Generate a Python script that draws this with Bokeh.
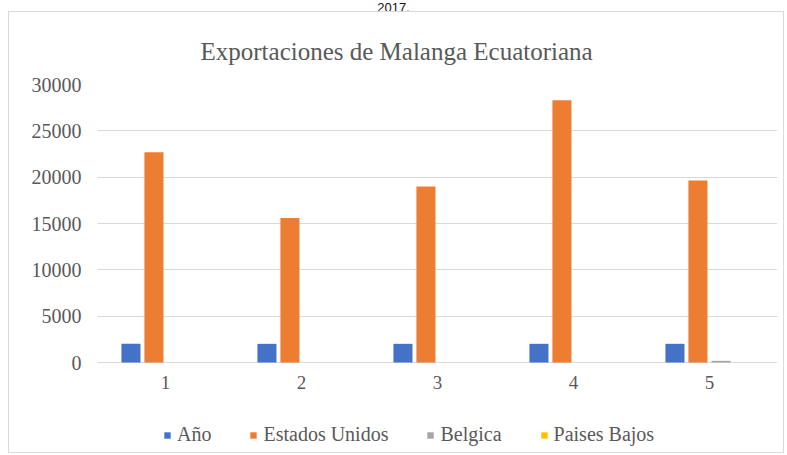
from bokeh.plotting import figure
from bokeh.models import (FactorRange, ColumnDataSource, Legend, LegendItem, Range1d,
                          FixedTicker, Div, NumeralTickFormatter)
from bokeh.transform import dodge
from bokeh.layouts import column
from bokeh.core.properties import value
from bokeh.embed import file_html
from bokeh.resources import INLINE

# ---- data ----
grupos = ["1", "2", "3", "4", "5"]
anio = [2013, 2014, 2015, 2016, 2017]
estados_unidos = [22700, 15600, 19000, 28300, 19650]
belgica = [0, 0, 0, 0, 180]
paises_bajos = [0, 0, 0, 0, 0]
y_ticks = [0, 5000, 10000, 15000, 20000, 25000, 30000]
series_names = ["Año", "Estados Unidos", "Belgica", "Paises Bajos"]
series_colors = ["#4472C4", "#ED7D31", "#A5A5A5", "#FFC000"]
titulo = "Exportaciones de Malanga Ecuatoriana"
caption = "2017."

src = ColumnDataSource(dict(g=grupos, a=anio, e=estados_unidos, b=belgica, p=paises_bajos))

SERIF = "Liberation Serif"
GRAY = "#595959"

# frame extends below the zero line to host category labels and legend
y_min = -90 * 30000 / 278
p = figure(x_range=FactorRange(*grupos), y_range=Range1d(y_min, 30000),
           output_backend="svg", toolbar_location=None,
           min_border_left=88, min_border_right=6, min_border_top=72, min_border_bottom=0,
           frame_height=368, frame_width=680)
p.margin = (0, 0, 0, 9)
p.styles = {"outline": "1px solid #d9d9d9"}
p.outline_line_color = None
p.background_fill_color = "white"
p.border_fill_color = "white"

p.title.text = titulo
p.title.align = "left"
p.title.text_font = SERIF
p.title.text_font_size = "25px"
p.title.text_font_style = "normal"
p.title.text_color = GRAY
p.title.standoff = 40
p.title.offset = 103

offs = [-0.254, -0.085, 0.085, 0.254]
cols = ["a", "e", "b", "p"]
renderers = []
for off, c, col in zip(offs, series_colors, cols):
    r = p.vbar(x=dodge("g", off, range=p.x_range), top=col, width=0.14, source=src,
               fill_color=c, line_color=None)
    renderers.append(r)

# category labels under the zero line
p.text(x=grupos, y=[0] * len(grupos), text=grupos, y_offset=20,
       text_font=value(SERIF), text_font_size="19px", text_color=GRAY,
       text_align="center", text_baseline="middle")

p.xaxis.visible = False
p.xgrid.grid_line_color = None
p.ygrid.grid_line_color = "#d9d9d9"
p.ygrid.grid_line_width = 1
p.yaxis.ticker = FixedTicker(ticks=y_ticks)
p.yaxis.formatter = NumeralTickFormatter(format="0")
p.yaxis.axis_line_color = None
p.yaxis.major_tick_line_color = None
p.yaxis.minor_tick_line_color = None
p.yaxis.major_label_standoff = 10
p.yaxis.major_label_text_font = SERIF
p.yaxis.major_label_text_font_size = "20px"
p.yaxis.major_label_text_color = GRAY
p.x_range.range_padding = 0
p.x_range.group_padding = 0

legend = Legend(items=[LegendItem(label=n, renderers=[r]) for n, r in zip(series_names, renderers)],
                orientation="horizontal", location=(66, 6),
                label_text_font="'Liberation Serif', serif", label_text_font_size="20px",
                label_text_color=GRAY,
                glyph_width=8, glyph_height=8, spacing=38, label_standoff=6,
                background_fill_alpha=0, border_line_color=None, padding=0, margin=0)
p.add_layout(legend, "center")

top = Div(text='<div style="font: 13px \'Liberation Sans\', Arial; color:#111; text-align:center; width:787px; line-height:12px">' + caption + '</div>',
          width=787, height=12, margin=0)

layout = column(top, p, spacing=0)
open("out.html", "w").write(file_html(layout, INLINE))
